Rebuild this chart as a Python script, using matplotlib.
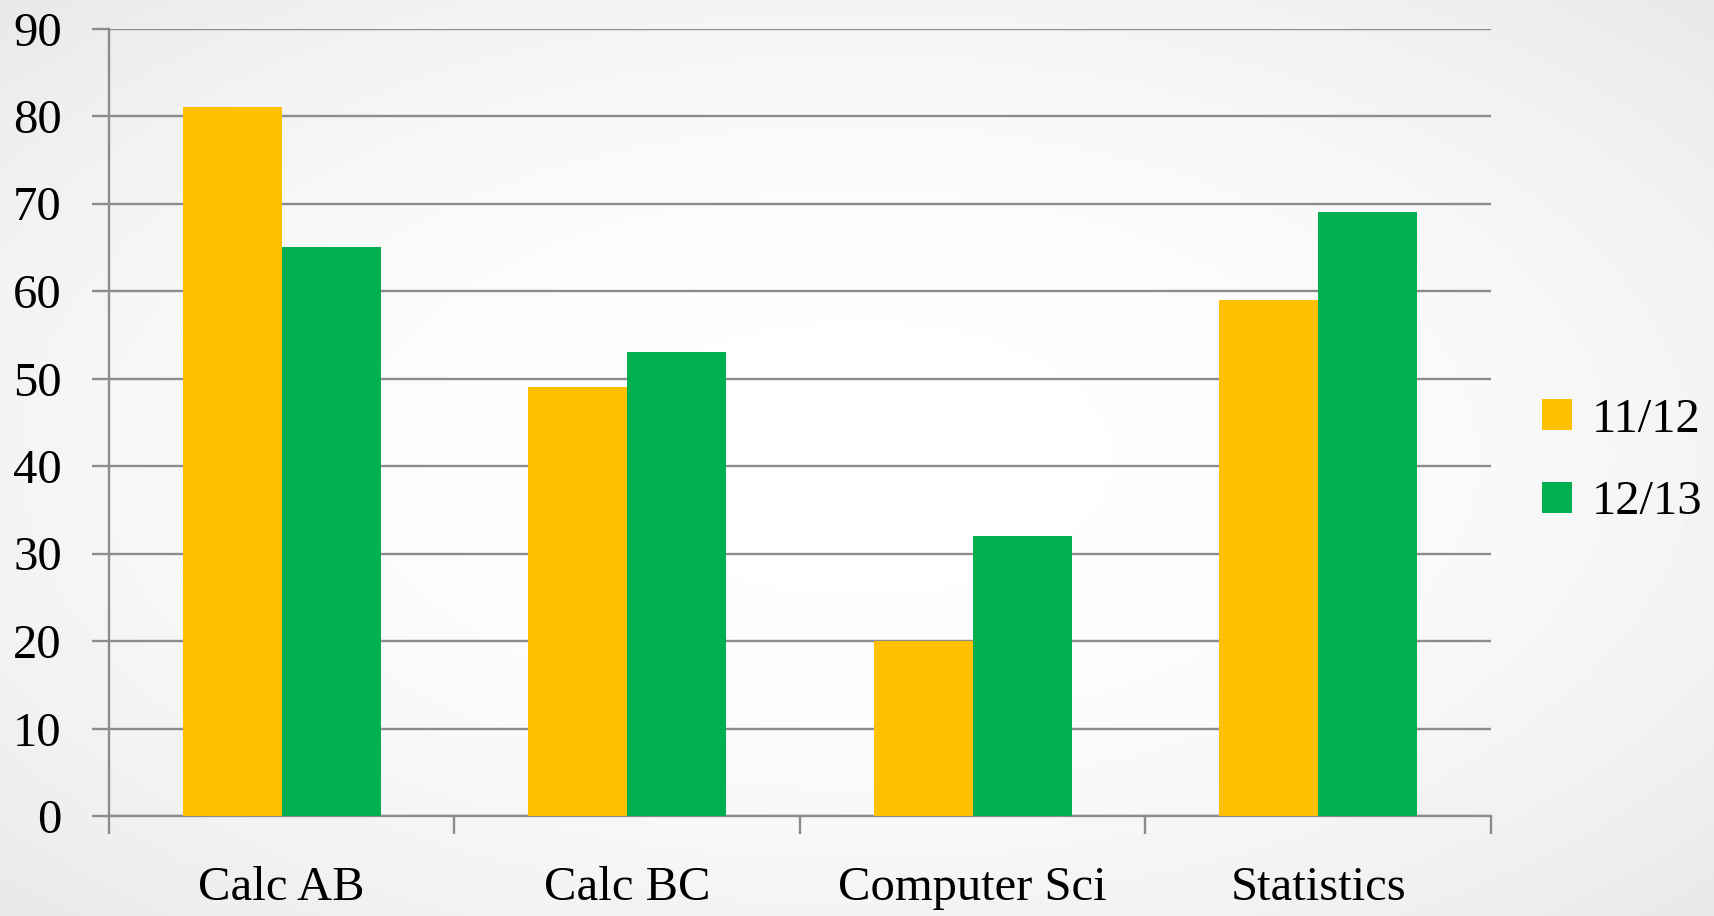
import numpy as np
import matplotlib.pyplot as plt
from matplotlib.patches import Patch

# chart data
courses = ["Calc AB", "Calc BC", "Computer Sci", "Statistics"]
year_1112 = [81, 49, 20, 59]
year_1213 = [65, 53, 32, 69]
series_names = ["11/12", "12/13"]
colors = ["#FFC000", "#00B050"]
yticks = [0, 10, 20, 30, 40, 50, 60, 70, 80, 90]

plt.rcParams['font.family'] = ['Liberation Serif', 'DejaVu Serif']

fig = plt.figure(figsize=(17.15, 9.16), dpi=100)

# soft radial background
bg = fig.add_axes([0, 0, 1, 1], zorder=-10)
yy, xx = np.mgrid[-1:1:300j, -1:1:500j]
r = np.sqrt(xx**2 + yy**2) / np.sqrt(2)
shade = 1.0 - 0.09 * r**2
bg.imshow(shade, cmap="gray", vmin=0, vmax=1, aspect="auto", extent=[0, 1, 0, 1])
bg.axis("off")

W, H = 1715, 916
ax = fig.add_axes([109 / W, 1 - 816 / H, (1491 - 109) / W, (816 - 28.5) / H])
ax.set_facecolor("none")

x = np.arange(len(courses))
bw = 0.286
ax.bar(x - bw / 2, year_1112, bw, color=colors[0], zorder=3)
ax.bar(x + bw / 2, year_1213, bw, color=colors[1], zorder=3)

ax.set_xlim(-0.5, len(courses) - 0.5)
ax.set_ylim(0, 90)
ax.set_yticks(yticks)
ax.yaxis.grid(True, color="#8c8c8c", linewidth=1.7, zorder=1)
ax.set_axisbelow(True)

for s in ["top", "right"]:
    ax.spines[s].set_visible(False)
for s in ["left", "bottom"]:
    ax.spines[s].set_color("#8c8c8c")
    ax.spines[s].set_linewidth(1.7)

ax.set_xticks(x)
ax.set_xticklabels(courses)
ax.set_xticks(np.arange(len(courses) + 1) - 0.5, minor=True)
ax.tick_params(axis="x", which="major", length=0, labelsize=35, pad=36)
ax.tick_params(axis="x", which="minor", length=13, width=1.7, color="#8c8c8c")
ax.tick_params(axis="y", length=12, width=1.7, color="#8c8c8c", labelsize=35, pad=22)

handles = [Patch(facecolor=c, label=n) for c, n in zip(colors, series_names)]
fig.legend(handles=handles, loc="center left", bbox_to_anchor=(1542 / W, 1 - 461 / H),
           frameon=False, fontsize=35, handlelength=0.62, handleheight=0.62,
           handletextpad=0.4, labelspacing=0.8, borderpad=0.0, borderaxespad=0.0)

fig.savefig("out.png", dpi=100)
